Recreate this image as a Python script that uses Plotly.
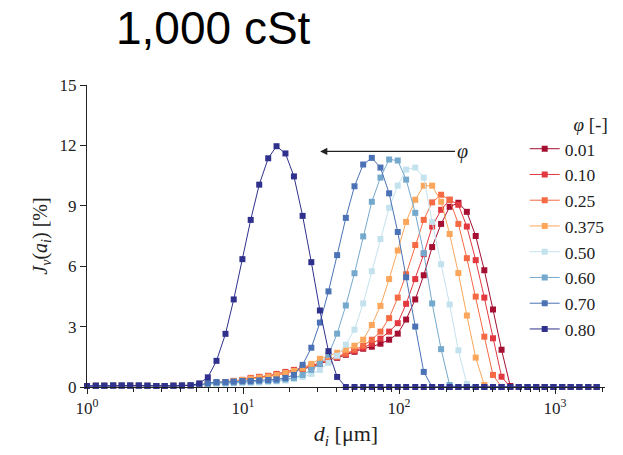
import plotly.graph_objects as go

# size classes d_i [um]
diam = [1.00, 1.14, 1.29, 1.47, 1.67, 1.89, 2.15, 2.44, 2.78, 3.15,
        3.58, 4.06, 4.62, 5.24, 5.95, 6.76, 7.72, 8.72, 9.91, 11.2,
        12.7, 14.5, 16.4, 18.7, 21.2, 24.1, 27.4, 31.1, 35.3, 40.1,
        45.6, 51.8, 58.9, 66.9, 76.0, 86.4, 98.1, 111, 127, 144,
        163, 186, 211, 240, 272, 310, 352, 400, 454, 516,
        586, 666, 756, 859, 976, 1110, 1260, 1430, 1630, 1850]

phi_labels = ["0.01", "0.10", "0.25", "0.375", "0.50", "0.60", "0.70", "0.80"]
colors = ["#a50f32", "#e2383f", "#f46a45", "#fba65a", "#c4e2ee", "#74a9cd", "#4a72b5", "#2f318c"]

low = [0.05, 0.06, 0.06, 0.07, 0.07, 0.07, 0.07, 0.06, 0.05, 0.05, 0.06, 0.07, 0.08, 0.10]

jv_001 = low + [0.15, 0.2, 0.25, 0.3, 0.35, 0.4, 0.5, 0.55, 0.6, 0.7,
                0.8, 0.9, 1.0, 1.15, 1.3, 1.45, 1.6, 1.75, 1.9, 2.0,
                2.15, 2.35, 2.65, 3.35, 4.35, 5.55, 6.95, 8.1, 8.95, 9.15,
                8.7, 7.5, 5.8, 3.85, 1.85, 0.05, 0, 0, 0, 0,
                0, 0, 0, 0, 0, 0]
jv_010 = low + [0.15, 0.2, 0.25, 0.3, 0.35, 0.45, 0.5, 0.55, 0.65, 0.75,
                0.85, 0.95, 1.05, 1.2, 1.35, 1.5, 1.65, 1.8, 1.95, 2.15,
                2.4, 2.75, 3.17, 4.13, 5.36, 6.6, 7.97, 8.8, 9.3, 9.05,
                7.97, 6.3, 4.44, 2.42, 0.51, 0, 0, 0, 0, 0,
                0, 0, 0, 0, 0, 0]
jv_025 = low + [0.15, 0.2, 0.25, 0.3, 0.35, 0.45, 0.5, 0.55, 0.6, 0.7,
                0.8, 0.9, 1.05, 1.2, 1.35, 1.5, 1.65, 1.85, 2.05, 2.35,
                2.75, 3.42, 4.44, 5.6, 7.05, 8.3, 9.17, 9.55, 9.3, 8.1,
                6.4, 4.49, 2.5, 0.6, 0, 0, 0, 0, 0, 0,
                0, 0, 0, 0, 0, 0]
jv_0375 = low + [0.15, 0.2, 0.25, 0.3, 0.35, 0.4, 0.45, 0.5, 0.6, 0.7,
                 0.8, 0.95, 1.15, 1.4, 1.55, 1.7, 1.85, 2.05, 2.35, 3.08,
                 4.03, 5.36, 6.78, 8.2, 9.3, 10.0, 10.0, 9.2, 7.6, 5.66,
                 3.55, 1.46, 0.1, 0, 0, 0, 0, 0, 0, 0,
                 0, 0, 0, 0, 0, 0]
jv_050 = low + [0.1, 0.15, 0.15, 0.18, 0.2, 0.2, 0.22, 0.25, 0.28, 0.32,
                0.4, 0.5, 0.65, 0.85, 1.2, 1.55, 2.1, 2.85, 4.15, 5.75,
                7.35, 8.9, 10.0, 10.8, 10.9, 10.4, 8.2, 6.1, 4.1, 1.82,
                0.15, 0, 0, 0, 0, 0, 0, 0, 0, 0,
                0, 0, 0, 0, 0, 0]
jv_060 = low + [0.15, 0.2, 0.2, 0.22, 0.25, 0.25, 0.28, 0.3, 0.32, 0.38,
                0.45, 0.6, 0.85, 1.15, 1.6, 2.65, 4.05, 5.65, 7.48, 9.2,
                10.4, 11.3, 11.25, 10.3, 8.65, 6.65, 4.15, 1.88, 0.1, 0,
                0, 0, 0, 0, 0, 0, 0, 0, 0, 0,
                0, 0, 0, 0, 0, 0]
jv_070 = low + [0.2, 0.25, 0.25, 0.27, 0.3, 0.3, 0.33, 0.35, 0.38, 0.45,
                0.6, 1.1, 1.95, 3.2, 4.75, 6.55, 8.4, 9.97, 11.05, 11.38,
                10.9, 9.62, 7.7, 5.45, 3.0, 0.75, 0, 0, 0, 0,
                0, 0, 0, 0, 0, 0, 0, 0, 0, 0,
                0, 0, 0, 0, 0, 0]
jv_080 = low[:13] + [0.18, 0.48, 1.3, 2.64, 4.35, 6.35, 8.3, 10.05, 11.36, 11.96, 11.6,
                     10.46, 8.5, 6.2, 3.8, 1.78, 0.5, 0, 0, 0, 0,
                     0, 0, 0, 0, 0, 0, 0, 0, 0, 0,
                     0, 0, 0, 0, 0, 0, 0, 0, 0, 0,
                     0, 0, 0, 0, 0, 0, 0]

series = [jv_001, jv_010, jv_025, jv_0375, jv_050, jv_060, jv_070, jv_080]

SERIF = "Liberation Serif, Times New Roman, serif"

fig = go.Figure()
for lab, col, ys in zip(phi_labels, colors, series):
    fig.add_trace(go.Scatter(
        x=diam, y=ys, name=lab, mode="lines+markers",
        line=dict(color=col, width=1),
        marker=dict(symbol="square", size=6, color=col),
        cliponaxis=False,
    ))

fig.update_layout(
    width=623, height=455,
    margin=dict(l=87, r=18, t=85, b=68),
    paper_bgcolor="white", plot_bgcolor="white",
    font=dict(family=SERIF, size=17, color="#222"),
    showlegend=True,
    legend=dict(
        x=0.845, y=0.93, xanchor="left", yanchor="top",
        font=dict(family=SERIF, size=17.5, color="#222"),
        title=dict(text="<i>φ</i> [-]", font=dict(family=SERIF, size=19, color="#222"), side="top right"),
        bgcolor="rgba(0,0,0,0)", tracegroupgap=0, itemwidth=30,
    ),
    xaxis=dict(
        type="log", range=[0, 3.32],
        showline=True, linecolor="#222", linewidth=1,
        showgrid=False, zeroline=False,
        ticks="outside", ticklen=6, tickcolor="#222",
        tickvals=[1, 10, 100, 1000],
        ticktext=["10<sup>0</sup>", "10<sup>1</sup>", "10<sup>2</sup>", "10<sup>3</sup>"],
        tickfont=dict(family=SERIF, size=17),
        minor=dict(ticks="outside", ticklen=4, tickcolor="#222",
                   tickvals=[2, 3, 4, 5, 6, 7, 8, 9, 20, 30, 40, 50, 60, 70, 80, 90,
                             200, 300, 400, 500, 600, 700, 800, 900, 2000]),
        title=dict(text="<i>d</i><sub><i>i</i></sub> [μm]", font=dict(family=SERIF, size=22), standoff=8),
    ),
    yaxis=dict(
        range=[0, 15], tickvals=[0, 3, 6, 9, 12, 15],
        showline=True, linecolor="#222", linewidth=1,
        showgrid=False, zeroline=False,
        ticks="outside", ticklen=6, tickcolor="#222",
        tickfont=dict(family=SERIF, size=17),
        title=dict(text="<i>J</i><sub><i>v</i></sub>(<i>a</i><sub><i>i</i></sub>) [%]",
                   font=dict(family=SERIF, size=20), standoff=6),
    ),
)

fig.add_annotation(
    x=1.494, y=11.7, xref="x", yref="y",
    ax=2.404, ay=11.7, axref="x", ayref="y",
    text="<i>φ</i>", font=dict(family=SERIF, size=20, color="#222"),
    showarrow=True, arrowhead=2, arrowsize=1.2, arrowwidth=1.2, arrowcolor="#222",
)

fig.add_annotation(
    x=0.245, y=1.19, xref="paper", yref="paper",
    text="1,000 cSt", showarrow=False,
    font=dict(family="Liberation Sans", size=46, color="black"),
    xanchor="center", yanchor="middle",
)

fig.write_html("out.html")
